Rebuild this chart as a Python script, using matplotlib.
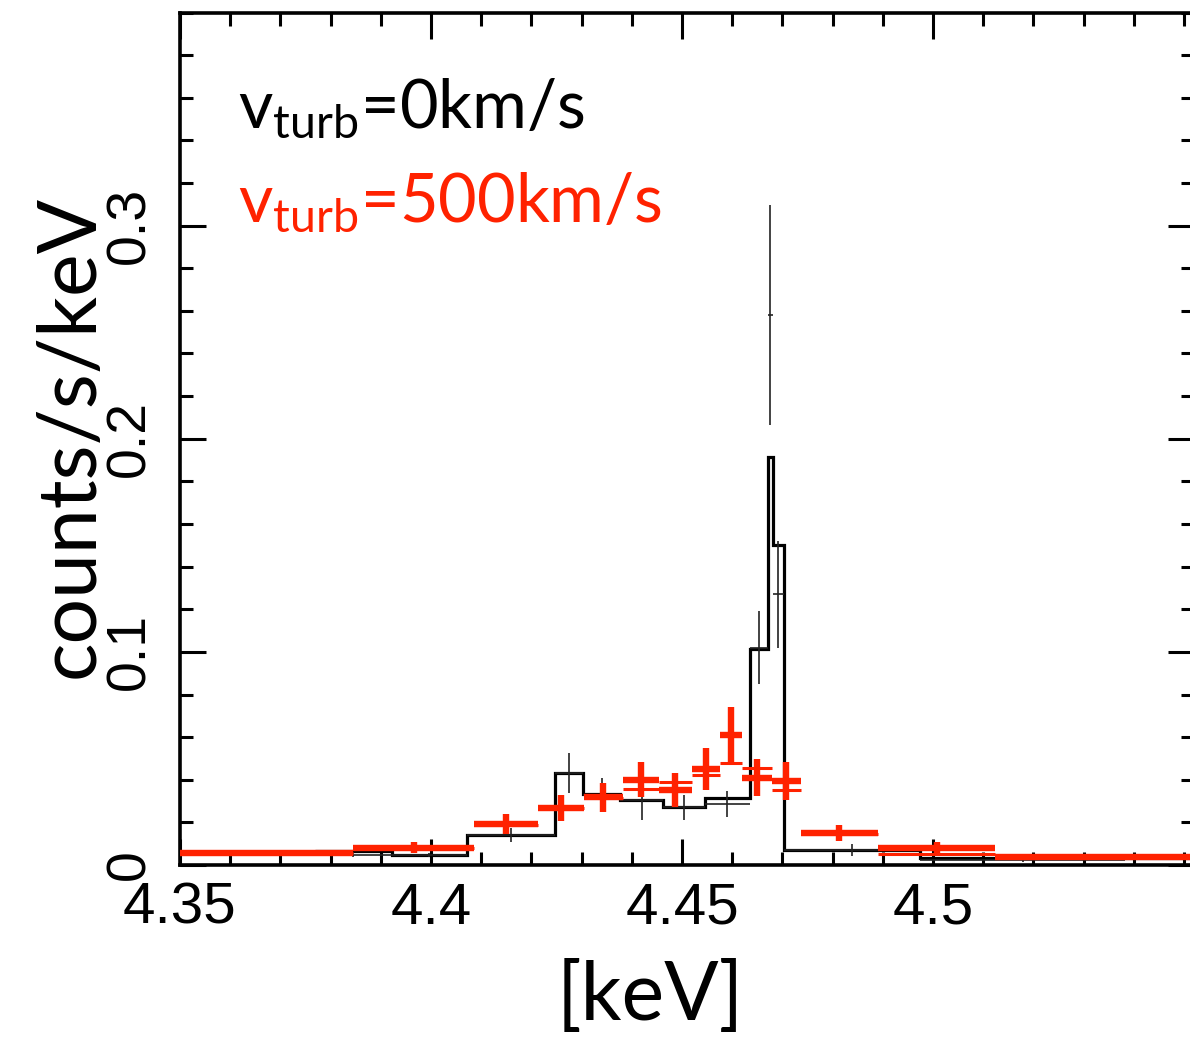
import numpy as np
import matplotlib.pyplot as plt
from matplotlib.ticker import FixedLocator, FixedFormatter, MultipleLocator

# v_turb = 0 km/s (black): bin edges [keV], data, 1-sigma errors, model
blk_edges = [4.3769, 4.3922, 4.4072, 4.4247, 4.4303, 4.4377, 4.4462, 4.4546,
             4.4635, 4.4671, 4.4681, 4.4703, 4.4974, 4.5383, 4.5791]
blk_data = [0.0047, 0.0047, 0.0140, 0.0430, 0.0330, 0.0305, 0.0270, 0.0286,
            0.1020, 0.2580, 0.1270, 0.0070, 0.0022]
blk_err = [0.0008, 0.0008, 0.0033, 0.0094, 0.0080, 0.0094, 0.0060, 0.0060,
           0.0170, 0.0516, 0.0250, 0.0030, 0.0010]
blk_model = [0.0066, 0.0047, 0.0141, 0.0432, 0.0333, 0.0305, 0.0272, 0.0314,
             0.1014, 0.1915, 0.1500, 0.0070, 0.0033, 0.0033]

# v_turb = 500 km/s (red)
red_edges = [4.3496, 4.3845, 4.4086, 4.4213, 4.4305, 4.4382, 4.4454, 4.4520,
             4.4576, 4.4620, 4.4679, 4.4737, 4.4890, 4.5124, 4.5550]
red_data = [0.0056, 0.0080, 0.0192, 0.0268, 0.0319, 0.0399, 0.0352, 0.0450,
            0.0610, 0.0410, 0.0394, 0.0150, 0.0080, 0.0038]
red_err = [0.0016, 0.0026, 0.0045, 0.0060, 0.0068, 0.0082, 0.0080, 0.0098,
           0.0130, 0.0087, 0.0087, 0.0038, 0.0030, 0.0012]
red_model = [0.0055, 0.0078, 0.0190, 0.0268, 0.0315, 0.0357, 0.0390, 0.0420,
             0.0480, 0.0455, 0.0352, 0.0145, 0.0050, 0.0036]

xticks = [4.35, 4.4, 4.45, 4.5]
xticklabels = ['4.35', '4.4', '4.45', '4.5']
yticks = [0, 0.1, 0.2, 0.3]
yticklabels = ['0', '0.1', '0.2', '0.3']

RED = '#ff2200'
W, H = 1190, 1037

fig = plt.figure(figsize=(W / 100, H / 100), dpi=100)
ax = fig.add_axes([180 / W, (H - 865) / H, 1014 / W, (865 - 12.5) / H])


def crosses(edges, data, err, color, lw):
    e = np.array(edges)[:len(data) + 1]
    centers = 0.5 * (e[:-1] + e[1:])
    half = 0.5 * (e[1:] - e[:-1])
    ax.errorbar(centers, data, xerr=half, yerr=err, fmt='none',
                ecolor=color, elinewidth=lw, capsize=0, zorder=3)


# black: model as a step line, data as thin crosses
ax.stairs(blk_model, np.array(blk_edges), baseline=None, color='black',
          lw=2.3, zorder=2)
crosses(blk_edges, blk_data, blk_err, '#222222', 1.2)

# red: model as flat bin segments only, data as bold crosses
re = np.array(red_edges)
ax.hlines(red_model, re[:-1], re[1:], color=RED, lw=2.2, zorder=3)
crosses(red_edges, red_data, red_err, RED, 4.6)

ax.set_xlim(4.35, 4.35 + 1014 / 5020)
ax.set_ylim(0, 0.4)

ax.xaxis.set_major_locator(FixedLocator(xticks))
ax.xaxis.set_major_formatter(FixedFormatter(xticklabels))
ax.xaxis.set_minor_locator(MultipleLocator(0.01))
ax.yaxis.set_major_locator(FixedLocator(yticks))
ax.yaxis.set_major_formatter(FixedFormatter(yticklabels))
ax.yaxis.set_minor_locator(MultipleLocator(0.02))

ax.tick_params(which='both', direction='in', top=True, right=True, width=2.2)
ax.tick_params(which='major', length=18.5)
ax.tick_params(which='minor', length=9.5)
ax.tick_params(axis='x', pad=12, labelsize=42)
ax.tick_params(axis='y', pad=17, labelsize=40, labelrotation=90)
for lab in ax.get_xticklabels() + ax.get_yticklabels():
    lab.set_family('Liberation Sans')
for lab in ax.get_yticklabels():
    lab.set_va('center')
for sp in ax.spines.values():
    sp.set_linewidth(2.6)

fig.text(71 / W, 1 - 436 / H, 'counts/s/keV', rotation=90, ha='center',
         va='center', fontsize=58, family='Lato')
fig.text(650 / W, 1 - 997 / H, '[keV]', ha='center', va='center',
         fontsize=58, family='Lato')

fig.text(238 / W, 1 - 128 / H, r'$\mathregular{v_{turb}}$=0km/s', ha='left',
         va='baseline', fontsize=48, family='Lato', color='black')
fig.text(238 / W, 1 - 222 / H, r'$\mathregular{v_{turb}}$=500km/s', ha='left',
         va='baseline', fontsize=48, family='Lato', color=RED)

fig.savefig('out.png', dpi=100)
